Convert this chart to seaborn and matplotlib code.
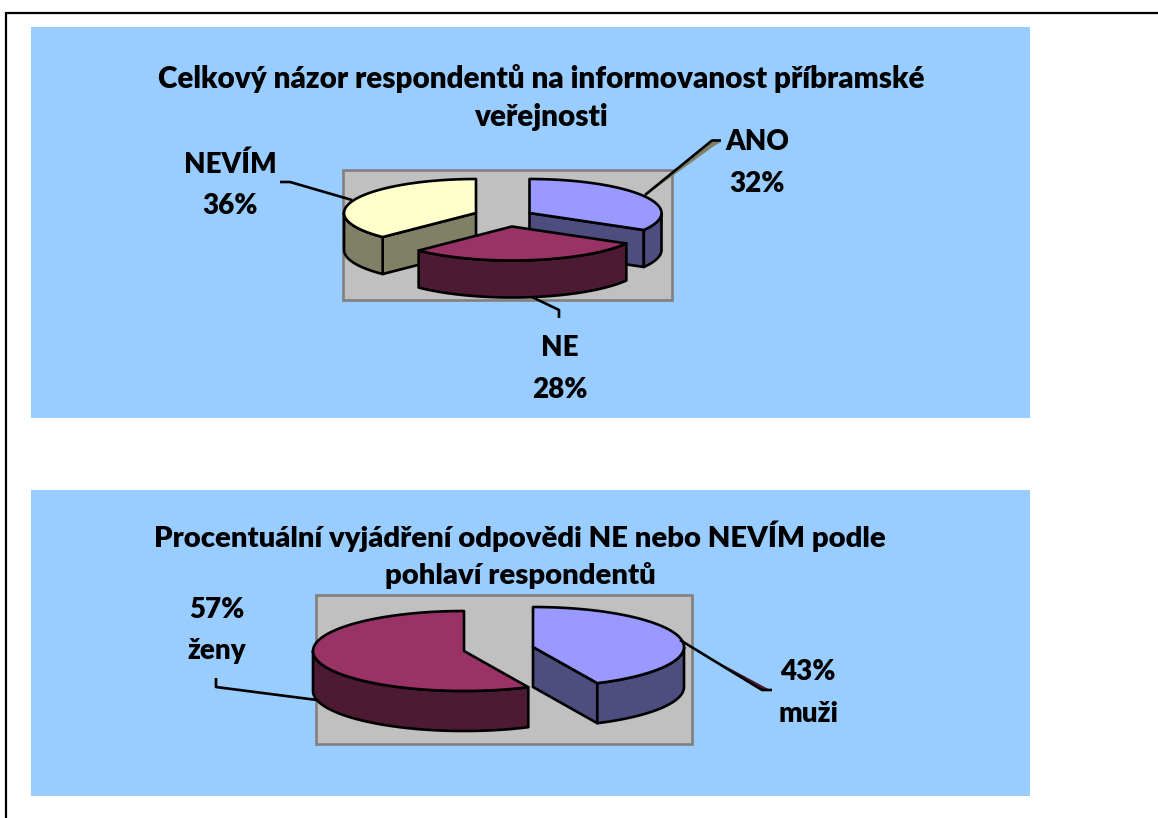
import matplotlib.pyplot as plt
import seaborn as sns
import numpy as np
from matplotlib.patches import Rectangle

# data
names_all = ["ANO", "NE", "NEVÍM"]
values_all = [32, 28, 36]
names_gender = ["muži", "ženy"]
values_gender = [43, 57]
title_all = "Celkový názor respondentů na informovanost příbramské\nveřejnosti"
title_gender = "Procentuální vyjádření odpovědi NE nebo NEVÍM podle\npohlaví respondentů"

sns.set_theme(style="white")
plt.rcParams["font.family"] = ["Lato", "DejaVu Sans"]

top_colors = sns.color_palette(["#9999FF", "#993366", "#FFFFCC"])
PANEL = "#99CCFF"
PLOT_BG = "#C0C0C0"
PLOT_EDGE = "#808080"
LW = 1.9
TITLE_FS = 21.3
FS = 20
WEIGHT = 800


def rim(cx, cy, rx, ry, a0, a1, dy=0):
    t = np.radians(np.linspace(a0, a1, 80))
    return cx + rx * np.sin(t), cy - ry * np.cos(t) + dy


def side(xs, ys, depth, color):
    px = np.r_[xs, xs[::-1]]
    py = np.r_[ys, ys[::-1] + depth]
    ax.fill(px, py, fc=color, ec="black", lw=LW, joinstyle="round")


# 3D looking exploded pie, angles run clockwise from 12 o'clock
def pie3d(values, apexes, rx, ry, depth, colors):
    total = sum(values)
    edges = np.r_[0, np.cumsum(values)] / total * 360
    order = sorted(range(len(values)), key=lambda i: apexes[i][1])
    for i in order:
        a0, a1 = edges[i], edges[i + 1]
        cx, cy = apexes[i]
        dark = tuple(c * 0.5 for c in colors[i])
        # radial walls facing the viewer
        if 180 < a0 < 360:
            x, y = rim(cx, cy, rx, ry, a0, a0)
            side(np.array([cx, x[0]]), np.array([cy, y[0]]), depth, dark)
        if 0 < a1 < 180:
            x, y = rim(cx, cy, rx, ry, a1, a1)
            side(np.array([cx, x[0]]), np.array([cy, y[0]]), depth, dark)
        # outer wall, front half of the rim only
        lo, hi = max(a0, 90), min(a1, 270)
        if lo < hi:
            x, y = rim(cx, cy, rx, ry, lo, hi)
            side(x, y, depth, dark)
        # top face
        x, y = rim(cx, cy, rx, ry, a0, a1)
        ax.fill(np.r_[cx, x], np.r_[cy, y], fc=colors[i], ec="black", lw=LW, joinstyle="round")


def panel(x0, y0, x1, y1, c, ec="none", lw=0):
    ax.add_patch(Rectangle((x0, y0), x1 - x0, y1 - y0, fc=c, ec=ec, lw=lw))


def leader(xs, ys):
    ax.plot(xs, ys, color="black", lw=LW, solid_capstyle="butt", zorder=5)


def label(x, y, s):
    ax.text(x, y, s, ha="center", va="center", fontsize=FS, fontweight=WEIGHT, color="black", zorder=6)


def title(x, y, s, fs=TITLE_FS):
    ax.text(x, y, s, ha="center", va="center", fontsize=fs, fontweight=WEIGHT,
            color="black", linespacing=1.47)


fig = plt.figure(figsize=(11.58, 8.18), dpi=100)
ax = fig.add_axes([0, 0, 1, 1])
ax.set_xlim(0, 1158)
ax.set_ylim(818, 0)
ax.axis("off")

# outer frame of the page table
ax.plot([6, 6, 1158], [818, 13, 13], color="black", lw=1.6, solid_joinstyle="miter")

# upper chart
panel(31, 27, 1030, 418, PANEL)
panel(342.5, 170, 672, 300, PLOT_BG, PLOT_EDGE, 1.9)
title(541, 97.5, title_all)
ax.fill([645, 712, 721, 714], [196, 142, 142, 146], fc="#808066", ec="none", zorder=4)
leader([645, 712, 721], [195, 140.5, 140.5])
leader([532, 559, 559], [297, 310, 318])
leader([280, 290, 352], [182, 182, 200])
pie3d(values_all, [(529.5, 213), (512, 226.5), (476, 213)], 132, 34, 37,
      [top_colors[0], top_colors[1], top_colors[2]])
label(757, 142.5, names_all[0])
label(757, 184.5, f"{values_all[0]}%")
label(560, 348.5, names_all[1])
label(560, 390.5, f"{values_all[1]}%")
label(230, 164.5, names_all[2])
label(230, 205.5, f"{values_all[2]}%")

# lower chart
panel(31, 490, 1030, 796, PANEL)
panel(316, 594.5, 692, 743.5, PLOT_BG, PLOT_EDGE, 1.9)
title(520, 554.5, title_gender, 21.1)
pie3d(values_gender, [(533, 647), (464, 651)], 151, 40, 40, top_colors[:2])
ax.fill([722, 762, 772], [664, 690, 691], fc="#4D1A33", ec="none", zorder=4)
leader([680, 762, 772], [640, 690, 690])
leader([216, 216, 317], [678, 687, 700])
label(808, 671.5, f"{values_gender[0]}%")
label(808, 713.5, names_gender[0])
label(217, 609.5, f"{values_gender[1]}%")
label(217, 650.5, names_gender[1])

fig.savefig("out.png", dpi=100)
